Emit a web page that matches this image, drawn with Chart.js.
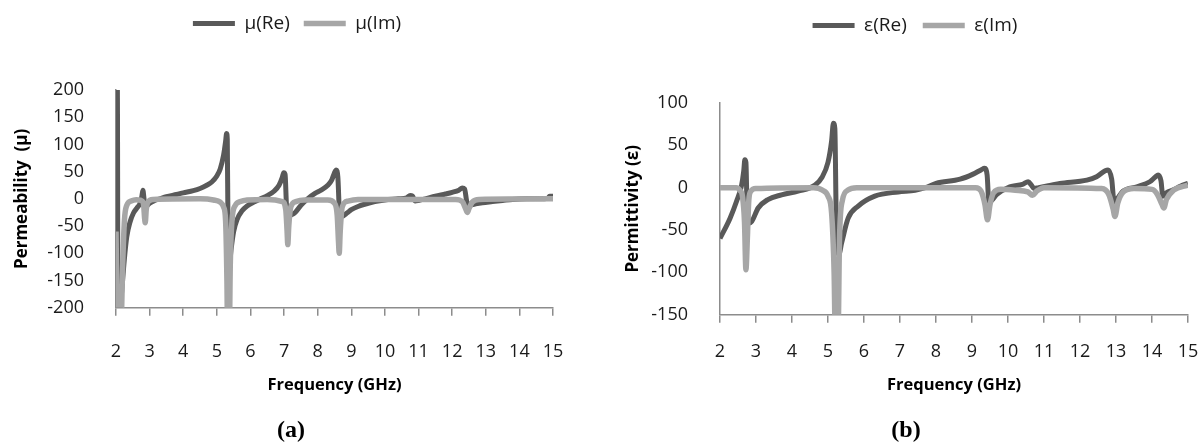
<!DOCTYPE html>
<html>
<head>
<meta charset="utf-8">
<script src="https://cdn.jsdelivr.net/npm/chart.js@4.4.0/dist/chart.umd.min.js"></script>
<style>
  body { margin: 0; background: #fff; overflow: hidden; width: 1201px; height: 447px; position: relative; }
  canvas { position: absolute; top: 0; }
  #chartA { left: 0; }
  #chartB { left: 620px; }
</style>
</head>
<body>
<canvas id="chartA" width="594" height="447"></canvas>
<canvas id="chartB" width="590" height="447"></canvas>
<script>
// (a) permeability
const freqMuRe = [2.0, 2.04, 2.06, 2.1, 2.17, 2.25, 2.32, 2.42, 2.52, 2.62, 2.72, 2.77, 2.8, 2.83, 2.87, 2.92, 3.0, 3.15, 3.3, 3.5, 3.8, 4.0, 4.3, 4.5, 4.7, 4.85, 5.0, 5.1, 5.2, 5.26, 5.29, 5.31, 5.33, 5.36, 5.42, 5.5, 5.6, 5.75, 5.9, 6.1, 6.3, 6.5, 6.7, 6.85, 6.95, 6.99, 7.03, 7.07, 7.12, 7.2, 7.33, 7.5, 7.7, 7.92, 8.1, 8.3, 8.42, 8.5, 8.55, 8.6, 8.65, 8.72, 8.87, 9.0, 9.2, 9.45, 9.7, 10.0, 10.4, 10.65, 10.75, 10.82, 10.9, 11.0, 11.2, 11.5, 11.8, 12.0, 12.2, 12.3, 12.37, 12.44, 12.55, 12.7, 12.9, 13.2, 13.5, 13.8, 14.2, 14.6, 14.85, 14.9, 15.0];
const muRe = [205, 205, -250, -220, -170, -110, -70, -42, -26, -17, -8, 5, 16, 2, -16, -13, -8, -3, 0, 4, 8, 11, 15, 19, 25, 31, 42, 55, 80, 105, 120, 110, -40, -130, -95, -60, -38, -22, -13, -6, 0, 6, 14, 25, 40, 48, 45, -10, -32, -30, -25, -12, 0, 10, 16, 25, 35, 48, 53, 40, -25, -32, -26, -20, -14, -9, -5, -2, 0, 2, 6, 5, -4, -3, 0, 5, 9, 12, 16, 20, 18, -6, -11, -9, -7, -5, -3, -1, 0, 0, 1, 5, 5];
const freqMuIm = [2.0, 2.05, 2.14, 2.2, 2.25, 2.32, 2.45, 2.6, 2.75, 2.82, 2.85, 2.87, 2.9, 2.95, 3.1, 4.5, 4.9, 5.1, 5.2, 5.26, 5.3, 5.32, 5.37, 5.4, 5.45, 5.55, 5.7, 5.9, 6.5, 6.95, 7.05, 7.09, 7.11, 7.14, 7.2, 7.35, 7.6, 8.3, 8.5, 8.58, 8.62, 8.64, 8.67, 8.73, 8.9, 9.2, 12.1, 12.3, 12.4, 12.45, 12.5, 12.6, 12.8, 15.0];
const muIm = [-60, -250, -250, -120, -40, -12, -4, -1.5, -3, -10, -35, -44, -20, -6, -1, 0, -2, -6, -15, -40, -150, -250, -250, -120, -40, -12, -5, -2, -1, -5, -20, -60, -84, -50, -15, -5, -2, -2, -8, -30, -80, -100, -60, -15, -4, -1, -1, -5, -18, -25, -18, -6, -1, 0];

// (b) permittivity
const freqEpsRe = [2.0, 2.28, 2.46, 2.6, 2.66, 2.69, 2.72, 2.75, 2.8, 2.88, 3.06, 3.33, 3.71, 4.17, 4.64, 4.83, 5.0, 5.1, 5.15, 5.19, 5.23, 5.3, 5.38, 5.56, 5.83, 6.3, 6.95, 7.42, 7.7, 8.0, 8.67, 9.03, 9.25, 9.35, 9.42, 9.47, 9.55, 9.69, 10.05, 10.4, 10.56, 10.65, 10.72, 10.85, 11.44, 12.19, 12.46, 12.7, 12.78, 12.88, 12.95, 13.05, 13.2, 13.58, 13.94, 14.1, 14.17, 14.25, 14.3, 14.4, 14.59, 14.8, 15.0];
const epsRe = [-60, -36, -16, 3, 20, 33, 30, -20, -42, -40, -24, -14, -8.5, -4, 3, 12, 30, 55, 76, 70, -40, -79, -65, -36, -22, -10, -5, -3, 0, 5, 10, 16, 21, 23, 15, -18, -15, -8, 1, 4, 7, 3, -1, 0, 5, 9, 13, 20, 21, 10, -18, -12, -4, 1, 7, 13, 15, 8, -10, -6, -2.6, 2, 5];
const freqEpsIm = [2.0, 2.45, 2.55, 2.63, 2.68, 2.72, 2.76, 2.8, 2.86, 3.0, 4.6, 4.85, 5.0, 5.1, 5.17, 5.2, 5.28, 5.32, 5.4, 5.55, 5.8, 9.1, 9.25, 9.36, 9.43, 9.5, 9.6, 9.8, 10.2, 10.55, 10.68, 10.8, 11.0, 12.6, 12.8, 12.92, 12.97, 13.05, 13.2, 13.5, 14.0, 14.15, 14.28, 14.33, 14.4, 14.6, 15.0];
const epsIm = [0, 0, -3, -12, -40, -97, -60, -15, -4, -1, 0, -3, -10, -30, -100, -170, -170, -60, -15, -3, 0, 0, -4, -20, -38, -20, -6, -2, -3, -5, -9, -4, 0, -1, -8, -25, -34, -18, -5, -1, -2, -8, -20, -24, -14, -3, 3];

const freqTicks = { min: 2, max: 15, step: 1 };

const DARK = '#595959';
const LIGHT = '#a6a6a6';
const AXIS = '#8c8c8c';
const TEXT = '#1a1a1a';

function pts(xs, ys) {
  return xs.map((x, i) => ({ x: x, y: ys[i] }));
}

function drawPanel(canvasId, cfg) {
  // push the plot down below the legend, like the Excel layout
  const legendSpace = {
    id: 'legendSpace',
    beforeInit(chart) {
      const fit = chart.legend.fit;
      chart.legend.fit = function () {
        fit.call(this);
        this.height = cfg.plotTop;
      };
    }
  };

  return new Chart(document.getElementById(canvasId), {
    type: 'line',
    data: {
      datasets: [
        { label: cfg.names[0], data: pts(cfg.freqRe, cfg.re), borderColor: DARK, backgroundColor: DARK, borderWidth: 5, order: 1 },
        { label: cfg.names[1], data: pts(cfg.freqIm, cfg.im), borderColor: LIGHT, backgroundColor: LIGHT, borderWidth: 5.5, order: 0 }
      ]
    },
    options: {
      responsive: false,
      animation: false,
      elements: {
        point: { radius: 0 },
        line: { cubicInterpolationMode: 'monotone', borderJoinStyle: 'round' }
      },
      layout: { padding: { left: 0, right: 0, top: 0, bottom: 2 } },
      plugins: {
        legend: {
          position: 'top',
          labels: {
            usePointStyle: true,
            pointStyle: 'line',
            pointStyleWidth: 42,
            padding: cfg.legendPad,
            color: TEXT,
            font: { family: 'Open Sans', size: 19 },
            sort: (a, b) => a.datasetIndex - b.datasetIndex
          }
        },
        subtitle: {
          display: true,
          position: 'bottom',
          text: cfg.tag,
          color: '#000',
          padding: 0,
          font: { family: 'Liberation Serif', size: 24, weight: 'bold' }
        },
        tooltip: { enabled: false }
      },
      scales: {
        x: {
          type: 'linear',
          min: freqTicks.min,
          max: freqTicks.max,
          ticks: { stepSize: freqTicks.step, padding: cfg.xTickPad, color: TEXT, font: { family: 'Open Sans', size: 18 } },
          grid: { display: true, drawOnChartArea: false, drawTicks: true, tickLength: 8, color: AXIS, lineWidth: 1.5 },
          border: { display: true, color: AXIS, width: 1.5 },
          title: {
            display: true,
            text: 'Frequency (GHz)',
            color: '#000',
            font: { family: 'Open Sans', size: 16.5, weight: 'bold' },
            padding: { top: 0, bottom: 21 }
          },
          afterFit(scale) {
            scale.height = cfg.xHeight;
            scale.paddingRight = cfg.padRight;
          }
        },
        y: {
          min: cfg.yMin,
          max: cfg.yMax,
          ticks: { stepSize: 50, padding: 24, color: TEXT, font: { family: 'Open Sans', size: 18 } },
          grid: { display: false },
          border: { display: true, color: AXIS, width: 1.5 },
          title: {
            display: true,
            text: cfg.yTitle,
            color: '#000',
            font: { family: 'Open Sans', size: 17, weight: 'bold' },
            padding: { top: cfg.yTitlePad, bottom: 0 }
          },
          afterFit(scale) {
            scale.width = cfg.yWidth;
          }
        }
      }
    },
    plugins: [legendSpace]
  });
}

drawPanel('chartA', {
  names: ['μ(Re)', 'μ(Im)'],
  freqRe: freqMuRe, re: muRe,
  freqIm: freqMuIm, im: muIm,
  yMin: -200, yMax: 200,
  yTitle: 'Permeability  (μ)',
  tag: '(a)\u00a0\u00a0',
  plotTop: 90, xHeight: 108.5, yWidth: 116, padRight: 41,
  yTitlePad: 12, xTickPad: 25, legendPad: 14
});

drawPanel('chartB', {
  names: ['ε(Re)', 'ε(Im)'],
  freqRe: freqEpsRe, re: epsRe,
  freqIm: freqEpsIm, im: epsIm,
  yMin: -150, yMax: 100,
  yTitle: 'Permittivity (ε)',
  tag: '(b)\u00a0\u00a0\u00a0',
  plotTop: 103, xHeight: 101.5, yWidth: 100, padRight: 22,
  yTitlePad: 3, xTickPad: 18, legendPad: 16
});
</script>
</body>
</html>
